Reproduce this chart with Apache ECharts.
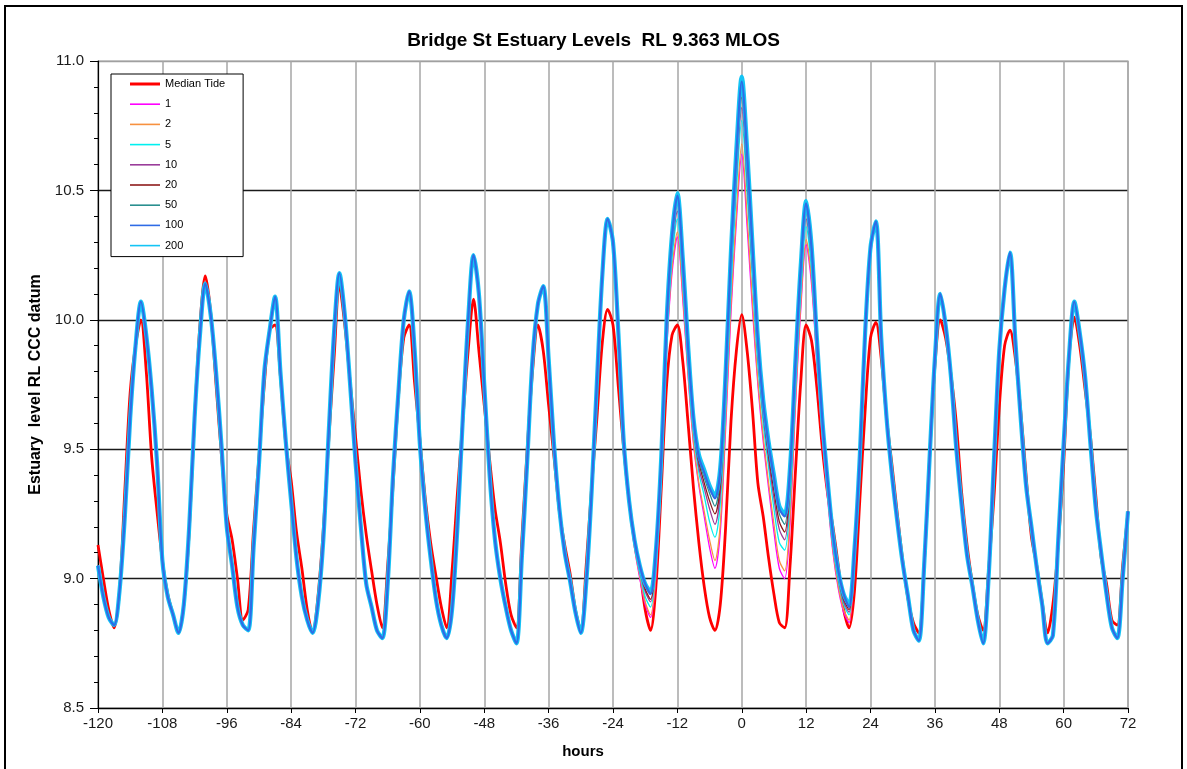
<!DOCTYPE html>
<html>
<head>
<meta charset="utf-8">
<title>Bridge St Estuary Levels</title>
<script src="https://cdn.jsdelivr.net/npm/echarts/dist/echarts.min.js"></script>
<style>
  html, body { margin: 0; padding: 0; background: #fff; }
  #chart { width: 1187px; height: 769px; }
</style>
</head>
<body>
<div id="chart"></div>
<script>
// Hourly estuary levels, hour -120 to +72 relative to the event peak.
const HOURS = Array.from({ length: 193 }, (_, i) => -120 + i);
const X_TICKS = [-120, -108, -96, -84, -72, -60, -48, -36, -24, -12, 0, 12, 24, 36, 48, 60, 72];

// Median tide, one value per hour (-120 .. 72)
const MEDIAN_TIDE = [
  9.13, 9.00, 8.88, 8.81, 8.95, 9.34, 9.72, 9.90, 10.00, 9.80, 9.47, 9.26,
  9.07, 8.94, 8.86, 8.79, 8.90, 9.18, 9.62, 9.98, 10.17, 10.03, 9.75, 9.48,
  9.25, 9.15, 9.00, 8.84, 8.88, 9.19, 9.47, 9.75, 9.96, 9.98, 9.78, 9.52,
  9.38, 9.18, 9.04, 8.88, 8.79, 8.93, 9.19, 9.53, 9.85, 10.13, 9.98, 9.76,
  9.55, 9.34, 9.17, 9.03, 8.90, 8.81, 9.05, 9.36, 9.70, 9.93, 9.98, 9.76,
  9.54, 9.31, 9.14, 9.01, 8.89, 8.81, 9.03, 9.33, 9.61, 9.88, 10.08, 9.88,
  9.67, 9.46, 9.27, 9.14, 8.98, 8.86, 8.81, 9.15, 9.50, 9.80, 9.98, 9.88,
  9.67, 9.47, 9.26, 9.13, 9.02, 8.88, 8.80, 9.05, 9.35, 9.62, 9.91, 10.04,
  9.98, 9.74, 9.50, 9.30, 9.15, 9.03, 8.88, 8.80, 8.97, 9.35, 9.75, 9.94,
  9.98, 9.84, 9.60, 9.35, 9.14, 8.97, 8.85, 8.80, 8.90, 9.20, 9.61, 9.88,
  10.02, 9.88, 9.65, 9.37, 9.24, 9.08, 8.94, 8.83, 8.81, 9.05, 9.41, 9.76,
  9.98, 9.92, 9.74, 9.51, 9.33, 9.20, 9.05, 8.88, 8.81, 8.95, 9.30, 9.65,
  9.93, 9.99, 9.85, 9.62, 9.44, 9.25, 9.07, 8.92, 8.83, 8.79, 9.05, 9.46,
  9.82, 10.00, 9.93, 9.79, 9.60, 9.33, 9.13, 8.98, 8.86, 8.80, 9.03, 9.31,
  9.66, 9.90, 9.96, 9.85, 9.65, 9.40, 9.16, 9.05, 8.91, 8.79, 8.90, 9.13,
  9.44, 9.85, 10.01, 9.90, 9.73, 9.55, 9.32, 9.08, 8.98, 8.84, 8.82, 9.05,
  9.26
];

// Flood-event runs coincide away from the event: hours -120 .. -25
const FLOOD_LEAD = [
  9.05, 8.93, 8.85, 8.82, 8.95, 9.24, 9.62, 9.90, 10.07, 9.94, 9.73, 9.45,
  9.07, 8.93, 8.86, 8.79, 8.90, 9.20, 9.62, 9.94, 10.14, 10.02, 9.80, 9.52,
  9.20, 9.05, 8.89, 8.82, 8.80, 9.12, 9.44, 9.80, 9.96, 10.09, 9.80, 9.53,
  9.30, 9.08, 8.93, 8.84, 8.79, 8.90, 9.15, 9.56, 9.95, 10.18, 10.02, 9.75,
  9.45, 9.20, 8.98, 8.89, 8.80, 8.77, 8.98, 9.40, 9.72, 10.00, 10.11, 9.89,
  9.52, 9.27, 9.08, 8.92, 8.82, 8.77, 8.88, 9.20, 9.62, 10.00, 10.25, 10.10,
  9.75, 9.40, 9.15, 9.00, 8.89, 8.80, 8.75, 9.08, 9.45, 9.85, 10.06, 10.13,
  9.85, 9.52, 9.27, 9.10, 8.99, 8.87, 8.79, 8.98, 9.33, 9.76, 10.17, 10.39
];

// ... and hours 25 .. 72
const FLOOD_TAIL = [
  10.38, 9.93, 9.62, 9.40, 9.22, 9.06, 8.93, 8.80, 8.76, 9.05, 9.46, 9.85,
  10.10, 9.98, 9.78, 9.50, 9.28, 9.09, 8.97, 8.84, 8.75, 9.00, 9.45, 9.88,
  10.12, 10.26, 9.92, 9.62, 9.36, 9.20, 9.04, 8.90, 8.75, 8.78, 9.15, 9.52,
  9.86, 10.07, 9.95, 9.78, 9.52, 9.27, 9.10, 8.94, 8.81, 8.77, 9.00, 9.26
];

// Event window, hours -24 .. 24, one array per flood event
const EVENT_1 = [
  10.27, 9.93, 9.51, 9.28, 9.12, 9.00, 8.90, 8.85, 9.01, 9.39, 9.88, 10.18,
  10.32, 10.08, 9.78, 9.52, 9.36, 9.24, 9.12, 9.04, 9.18, 9.58, 10.03, 10.38,
  10.64, 10.36, 10.04, 9.75, 9.53, 9.35, 9.18, 9.04, 9.00, 9.21, 9.66, 10.04,
  10.29, 10.14, 9.83, 9.54, 9.31, 9.10, 8.96, 8.87, 8.83, 9.05, 9.42, 9.91,
  10.24
];
const EVENT_2 = [
  10.27, 9.93, 9.51, 9.28, 9.12, 9.01, 8.91, 8.86, 9.02, 9.40, 9.89, 10.20,
  10.34, 10.10, 9.79, 9.53, 9.37, 9.26, 9.15, 9.07, 9.21, 9.61, 10.06, 10.41,
  10.68, 10.40, 10.07, 9.77, 9.55, 9.37, 9.21, 9.07, 9.03, 9.24, 9.68, 10.06,
  10.31, 10.16, 9.84, 9.55, 9.32, 9.11, 8.97, 8.88, 8.84, 9.06, 9.43, 9.91,
  10.25
];
const EVENT_5 = [
  10.28, 9.94, 9.52, 9.29, 9.13, 9.02, 8.93, 8.89, 9.05, 9.42, 9.93, 10.24,
  10.39, 10.15, 9.83, 9.56, 9.41, 9.32, 9.22, 9.16, 9.29, 9.67, 10.13, 10.50,
  10.77, 10.49, 10.15, 9.83, 9.60, 9.43, 9.27, 9.14, 9.11, 9.30, 9.74, 10.11,
  10.36, 10.20, 9.87, 9.57, 9.34, 9.13, 8.99, 8.90, 8.86, 9.08, 9.44, 9.93,
  10.26
];
const EVENT_10 = [
  10.29, 9.94, 9.52, 9.29, 9.14, 9.03, 8.95, 8.91, 9.07, 9.44, 9.95, 10.27,
  10.42, 10.18, 9.85, 9.58, 9.43, 9.35, 9.27, 9.21, 9.33, 9.71, 10.18, 10.55,
  10.82, 10.54, 10.19, 9.86, 9.63, 9.46, 9.31, 9.19, 9.15, 9.34, 9.77, 10.14,
  10.39, 10.23, 9.89, 9.59, 9.35, 9.14, 9.00, 8.91, 8.87, 9.09, 9.45, 9.93,
  10.26
];
const EVENT_20 = [
  10.29, 9.94, 9.52, 9.29, 9.14, 9.04, 8.96, 8.92, 9.08, 9.45, 9.97, 10.29,
  10.45, 10.20, 9.87, 9.59, 9.45, 9.37, 9.30, 9.25, 9.36, 9.74, 10.21, 10.59,
  10.86, 10.58, 10.22, 9.88, 9.65, 9.48, 9.34, 9.22, 9.18, 9.37, 9.79, 10.17,
  10.42, 10.25, 9.90, 9.60, 9.36, 9.15, 9.01, 8.92, 8.88, 9.09, 9.46, 9.94,
  10.27
];
const EVENT_50 = [
  10.30, 9.95, 9.53, 9.30, 9.14, 9.04, 8.97, 8.94, 9.10, 9.46, 9.98, 10.31,
  10.47, 10.22, 9.88, 9.61, 9.46, 9.39, 9.33, 9.28, 9.39, 9.77, 10.24, 10.61,
  10.88, 10.61, 10.25, 9.90, 9.67, 9.50, 9.37, 9.25, 9.21, 9.40, 9.81, 10.19,
  10.44, 10.27, 9.92, 9.61, 9.37, 9.16, 9.02, 8.93, 8.89, 9.10, 9.46, 9.94,
  10.27
];
const EVENT_100 = [
  10.30, 9.95, 9.53, 9.30, 9.15, 9.05, 8.98, 8.94, 9.11, 9.47, 9.99, 10.32,
  10.48, 10.23, 9.89, 9.62, 9.47, 9.41, 9.35, 9.31, 9.42, 9.79, 10.26, 10.64,
  10.92, 10.64, 10.28, 9.92, 9.68, 9.52, 9.39, 9.27, 9.24, 9.42, 9.83, 10.20,
  10.45, 10.28, 9.93, 9.62, 9.38, 9.17, 9.03, 8.94, 8.89, 9.11, 9.47, 9.95,
  10.28
];
const EVENT_200 = [
  10.30, 9.95, 9.53, 9.30, 9.15, 9.05, 8.98, 8.95, 9.11, 9.47, 10.00, 10.33,
  10.49, 10.24, 9.90, 9.62, 9.48, 9.42, 9.36, 9.32, 9.43, 9.80, 10.27, 10.66,
  10.94, 10.66, 10.29, 9.93, 9.69, 9.53, 9.40, 9.28, 9.25, 9.43, 9.84, 10.21,
  10.46, 10.29, 9.93, 9.62, 9.38, 9.17, 9.03, 8.94, 8.90, 9.11, 9.47, 9.95,
  10.28
];

const SERIES_NAMES = ['Median Tide', '1', '2', '5', '10', '20', '50', '100', '200'];
const SERIES_COLORS = {
  'Median Tide': '#ff0000', '1': '#ff00ff', '2': '#f7913f', '5': '#00f0f0',
  '10': '#9a3d9a', '20': '#8e1b1b', '50': '#2a8f8f', '100': '#2f6be6', '200': '#14c4f5'
};

const FONT = '"Liberation Sans", Arial, Helvetica, sans-serif';

function floodRun(eventWindow) {
  return FLOOD_LEAD.concat(eventWindow, FLOOD_TAIL);
}

function line(name, values, width, z) {
  const color = SERIES_COLORS[name];
  return {
    name: name,
    type: 'line',
    data: HOURS.map((h, i) => [h, values[i]]),
    symbol: 'none',
    showSymbol: false,
    smooth: 0.3,
    z: z,
    lineStyle: { color: color, width: width },
    itemStyle: { color: color },
    emphasis: { disabled: true },
    animation: false
  };
}

const series = [
  line('Median Tide', MEDIAN_TIDE, 2.8, 2),
  line('1', floodRun(EVENT_1), 1.3, 3),
  line('2', floodRun(EVENT_2), 1.3, 3),
  line('5', floodRun(EVENT_5), 1.3, 3),
  line('10', floodRun(EVENT_10), 1.3, 3),
  line('20', floodRun(EVENT_20), 1.3, 3),
  line('50', floodRun(EVENT_50), 1.3, 3),
  line('200', floodRun(EVENT_200), 4.2, 4),
  line('100', floodRun(EVENT_100), 2.2, 5)
];

// Legend keys are plain line samples (no markers)
const legendData = SERIES_NAMES.map(n => ({
  name: n,
  icon: n === 'Median Tide' ? 'path://M0,0H30V3H0Z' : 'path://M0,0H30V1.6H0Z',
  itemStyle: { color: SERIES_COLORS[n], borderWidth: 0 }
}));

const chart = echarts.init(document.getElementById('chart'), null, { renderer: 'canvas' });
chart.setOption({
  animation: false,
  backgroundColor: '#ffffff',
  textStyle: { fontFamily: FONT },
  title: {
    text: 'Bridge St Estuary Levels  RL 9.363 MLOS',
    left: 'center',
    top: 26,
    textStyle: { fontFamily: FONT, fontSize: 19, fontWeight: 'bold', color: '#000' }
  },
  legend: {
    data: legendData,
    orient: 'vertical',
    left: 111,
    top: 74,
    padding: [4, 18, 5, 19],
    itemWidth: 30,
    itemHeight: 12,
    itemGap: 8.2,
    backgroundColor: '#ffffff',
    borderColor: '#000000',
    borderWidth: 1,
    borderRadius: 0,
    selectedMode: false,
    textStyle: { fontFamily: FONT, fontSize: 11, color: '#000', lineHeight: 12 }
  },
  grid: {
    left: 98, right: 59, top: 61, bottom: 61,
    show: true, borderColor: '#a0a0a0', borderWidth: 1.2, backgroundColor: '#ffffff'
  },
  xAxis: {
    type: 'value',
    min: X_TICKS[0],
    max: X_TICKS[X_TICKS.length - 1],
    interval: 12,
    name: 'hours',
    nameLocation: 'middle',
    nameGap: 36,
    nameTextStyle: { fontFamily: FONT, fontSize: 15, fontWeight: 'bold', color: '#000', padding: [0, 60, 0, 0] },
    axisLine: { show: true, onZero: false, lineStyle: { color: '#000', width: 1.2 } },
    axisTick: { show: true, length: 5, lineStyle: { color: '#000' } },
    axisLabel: { fontFamily: FONT, fontSize: 15, color: '#1a1a1a', margin: 8 },
    splitLine: { show: true, lineStyle: { color: '#a6a6a6', width: 1.5 } }
  },
  yAxis: {
    type: 'value',
    min: 8.5,
    max: 11.0,
    interval: 0.5,
    name: 'Estuary  level RL CCC datum',
    nameLocation: 'middle',
    nameGap: 54,
    nameTextStyle: { fontFamily: FONT, fontSize: 16, fontWeight: 'bold', color: '#000' },
    axisLine: { show: true, onZero: false, lineStyle: { color: '#000', width: 1.2 } },
    axisTick: { show: true, length: 8, lineStyle: { color: '#000' } },
    minorTick: { show: true, splitNumber: 5, length: 4, lineStyle: { color: '#000' } },
    axisLabel: {
      fontFamily: FONT, fontSize: 15, color: '#1a1a1a', margin: 14,
      formatter: v => v.toFixed(1)
    },
    splitLine: {
      show: true,
      lineStyle: { color: ['#000', '#1a1a1a', '#1a1a1a', '#1a1a1a', '#1a1a1a', '#a0a0a0'], width: 1.3 }
    }
  },
  graphic: [{
    type: 'rect',
    silent: true,
    z: 100,
    shape: { x: 5, y: 6, width: 1177, height: 800 },
    style: { fill: null, stroke: '#000', lineWidth: 2 }
  }],
  series: series
});
</script>
</body>
</html>
